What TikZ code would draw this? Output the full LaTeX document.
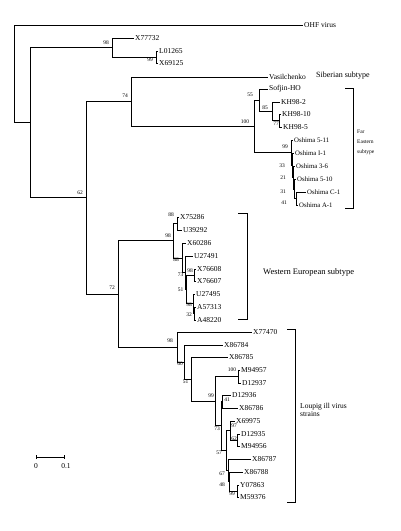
\documentclass[tikz,border=0pt]{standalone}
\usepackage{fontspec}
\setmainfont{Liberation Serif}
\usetikzlibrary{arrows.meta}

\begin{document}
\begin{tikzpicture}[
        x=1pt, y=-1pt,
        branchline/.style={line width=0.8pt},
        leaf/.style={anchor=west,inner sep=1pt,font=\fontsize{7.5}{8}\selectfont},
        oshima/.style={leaf,font=\fontsize{6.8}{7}\selectfont},
        boot/.style={inner sep=0pt,font=\fontsize{5.5}{5.5}\selectfont},
        cladename/.style={anchor=west,align=left,inner sep=0pt},
        bracket/.style={line width=0.8pt}
    ]
    \useasboundingbox (0,0) rectangle (400,531);

    % internal nodes of the tree
    \coordinate (root) at (14,73.8);
    \coordinate (n30) at (30,122.5);
    \coordinate (t98) at (112,47.3);
    \coordinate (t99) at (156,57.3);
    \coordinate (n62) at (86,197.8);
    \coordinate (n74) at (131,101.7);
    \coordinate (n100) at (254,126.3);
    \coordinate (n55) at (259,100.1);
    \coordinate (n85) at (272,111.3);
    \coordinate (n77) at (279,120.5);
    \coordinate (o99) at (291,152.5);
    \coordinate (o33) at (292,165);
    \coordinate (o21) at (293,177.5);
    \coordinate (o31) at (294,189);
    \coordinate (o41) at (296,198.5);
    \coordinate (n72) at (118,293.9);
    \coordinate (w98) at (173,240.7);
    \coordinate (w88a) at (177,223.5);
    \coordinate (w88b) at (182,257.9);
    \coordinate (w73) at (185,272.7);
    \coordinate (w51) at (186,289.4);
    \coordinate (w98c) at (194,275);
    \coordinate (w98d) at (193,303.8);
    \coordinate (w32) at (194,313.5);
    \coordinate (l98) at (177,347);
    \coordinate (l60) at (184,362);
    \coordinate (l51) at (191,379);
    \coordinate (l99) at (215,401);
    \coordinate (l100) at (238,376.5);
    \coordinate (l73) at (221,425.8);
    \coordinate (l41) at (222,401.5);
    \coordinate (l57) at (226,450);
    \coordinate (l97) at (230,430.5);
    \coordinate (l62) at (237,440);
    \coordinate (l67) at (228,470);
    \coordinate (l48) at (229,481.5);
    \coordinate (l99b) at (237,491);

    % leaves
    \node[leaf] (ohf) at (303,25) {OHF virus};
    \node[leaf] (x77732) at (134,38) {X77732};
    \node[leaf] (l01265) at (158,51.5) {L01265};
    \node[leaf] (x69125) at (158,63) {X69125};
    \node[leaf] (vasil) at (268,77) {Vasilchenko};
    \node[leaf] (sofjin) at (268,89) {Sofjin-HO};
    \node[leaf] (kh2) at (280,102) {KH98-2};
    \node[leaf] (kh10) at (281,114) {KH98-10};
    \node[leaf] (kh5) at (282,127) {KH98-5};
    \node[oshima] (os511) at (293,140) {Oshima 5-11};
    \node[oshima] (osi1) at (294,153) {Oshima I-1};
    \node[oshima] (os36) at (295,166) {Oshima 3-6};
    \node[oshima] (os510) at (296,179) {Oshima 5-10};
    \node[oshima] (osc1) at (306,192) {Oshima C-1};
    \node[oshima] (osa1) at (298,205) {Oshima A-1};

    \node[leaf] (x75286) at (179,217) {X75286};
    \node[leaf] (u39292) at (182,230) {U39292};
    \node[leaf] (x60286) at (186,243) {X60286};
    \node[leaf] (u27491) at (193,256) {U27491};
    \node[leaf] (x76608) at (196,269) {X76608};
    \node[leaf] (x76607) at (196,281) {X76607};
    \node[leaf] (u27495) at (195,294) {U27495};
    \node[leaf] (a57313) at (196,307) {A57313};
    \node[leaf] (a48220) at (196,320) {A48220};

    \node[leaf] (x77470) at (252,332) {X77470};
    \node[leaf] (x86784) at (223,345) {X86784};
    \node[leaf] (x86785) at (228,357) {X86785};
    \node[leaf] (m94957) at (240,370) {M94957};
    \node[leaf] (d12937) at (241,383) {D12937};
    \node[leaf] (d12936) at (231,395) {D12936};
    \node[leaf] (x86786) at (238,408) {X86786};
    \node[leaf] (x69975) at (235,421) {X69975};
    \node[leaf] (d12935) at (240,434) {D12935};
    \node[leaf] (m94956) at (240,446) {M94956};
    \node[leaf] (x86787) at (251,459) {X86787};
    \node[leaf] (x86788) at (243,472) {X86788};
    \node[leaf] (y07863) at (239,485) {Y07863};
    \node[leaf] (m59376) at (239,497) {M59376};

    % branches
    \foreach \p/\c in {root/ohf, root/n30, n30/t98, n30/n62,
        t98/x77732, t98/t99, t99/l01265, t99/x69125,
        n62/n74, n62/n72, n74/vasil, n74/n100, n100/n55, n100/o99,
        n55/sofjin, n55/n85, n85/kh2, n85/n77, n77/kh10, n77/kh5,
        o99/os511, o99/o33, o33/osi1, o33/o21, o21/os36, o21/o31,
        o31/os510, o31/o41, o41/osc1, o41/osa1,
        n72/w98, n72/l98, w98/w88a, w98/w88b, w88a/x75286, w88a/u39292,
        w88b/x60286, w88b/w73, w73/u27491, w73/w51, w51/w98c, w51/w98d,
        w98c/x76608, w98c/x76607, w98d/u27495, w98d/w32,
        w32/a57313, w32/a48220,
        l98/x77470, l98/l60, l60/x86784, l60/l51, l51/x86785, l51/l99,
        l99/l100, l99/l73, l100/m94957, l100/d12937, l73/l41, l73/l57,
        l41/d12936, l41/x86786, l57/l97, l57/l67, l97/x69975, l97/l62,
        l62/d12935, l62/m94956, l67/x86787, l67/l48, l48/x86788,
        l48/l99b, l99b/y07863, l99b/m59376}
        \draw[branchline] (\p) |- (\c);

    % bootstrap values
    \foreach \bx/\by/\bt [count=\bi] in {106/43/98, 150/60/99, 125/96/74,
        80/193/62, 245/122/100, 250/95/55, 265/108/85, 276/124/77,
        285/147/99, 282/166/33, 283/178/21, 283/192/31, 284/203/41,
        112/288/72, 168/236/98, 171/215/88, 176/260/88, 180.5/275/73,
        180.5/290/51, 190/271/98, 189/305/98, 189/315/32,
        170/341/98, 180/364/60, 185.5/382/51, 232/370/100, 211/396/99,
        227/400/41, 217/429/73, 234/426/97, 234/439/62, 219/453/57,
        222/474/67, 222/485/48, 232/494/99}
        \node[boot] (bs\bi) at (\bx,\by) {\bt};

    % clade brackets
    \coordinate (feTop) at (345,88);
    \coordinate (feBot) at (345,208);
    \coordinate (weTop) at (238,213);
    \coordinate (weBot) at (238,319);
    \coordinate (liTop) at (287,329);
    \coordinate (liBot) at (287,502);
    \draw[bracket] (feTop) -- ++(8,0) |- (feBot);
    \draw[bracket] (weTop) -- ++(9,0) |- (weBot);
    \draw[bracket] (liTop) -- ++(8,0) |- (liBot);

    \node[cladename,font=\fontsize{8}{9}\selectfont] (siberian) at (316,76) {Siberian subtype};
    \node[cladename,font=\fontsize{5.5}{10}\selectfont] (fareast) at (357,142) {Far\\Eastern\\subtype};
    \node[cladename,font=\fontsize{8.5}{9}\selectfont] (western) at (263,272) {Western European subtype};
    \node[cladename,font=\fontsize{7.5}{8.5}\selectfont] (louping) at (300,410) {Loupig ill virus\\strains};

    % scale bar
    \coordinate (sc0) at (36,457);
    \coordinate (sc1) at (65,457);
    \draw[line width=0.8pt,{Bar[width=4pt]}-{Bar[width=4pt]}] (sc0) -- (sc1);
    \node[font=\fontsize{7.5}{8}\selectfont] (sclo) at (36,466) {0};
    \node[font=\fontsize{7.5}{8}\selectfont] (schi) at (66,466) {0.1};

\end{tikzpicture}
\end{document}
